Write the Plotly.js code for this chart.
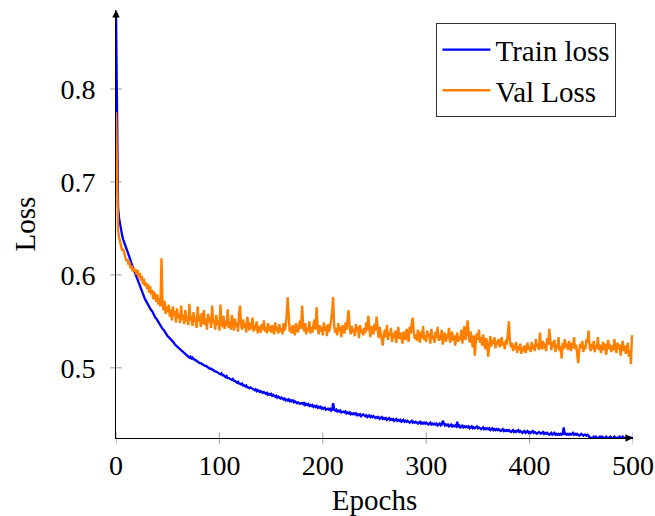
<!DOCTYPE html>
<html>
<head>
<meta charset="utf-8">
<script src="https://cdn.plot.ly/plotly-3.0.1.min.js"></script>
<style>html,body{margin:0;padding:0;background:#fff;}#chart{width:655px;height:516px;}</style>
</head>
<body>
<div id="chart"></div>
<script>
const seriesNames = ["Train loss", "Val Loss"];
const xTicks = [0, 100, 200, 300, 400, 500];
const yTicks = [0.5, 0.6, 0.7, 0.8];
const yTickLabels = ["0.5", "0.6", "0.7", "0.8"];

const trainLoss = [
0.884,0.778,0.672,0.661,0.654,0.646,0.642,0.638,0.635,0.632,
0.630,0.626,0.623,0.620,0.616,0.612,0.609,0.605,0.602,0.599,
0.596,0.593,0.591,0.587,0.585,0.582,0.579,0.577,0.574,0.572,
0.570,0.568,0.566,0.563,0.562,0.561,0.558,0.556,0.554,0.553,
0.551,0.549,0.547,0.546,0.544,0.542,0.541,0.539,0.537,0.536,
0.534,0.533,0.532,0.530,0.529,0.528,0.527,0.525,0.524,0.523,
0.522,0.521,0.520,0.519,0.518,0.517,0.516,0.516,0.514,0.514,
0.513,0.511,0.512,0.510,0.511,0.509,0.509,0.508,0.508,0.507,
0.506,0.505,0.505,0.504,0.504,0.503,0.502,0.502,0.501,0.500,
0.500,0.499,0.499,0.498,0.497,0.497,0.496,0.496,0.495,0.494,
0.494,0.493,0.494,0.492,0.492,0.491,0.490,0.491,0.489,0.489,
0.488,0.488,0.487,0.488,0.486,0.486,0.485,0.484,0.485,0.483,
0.483,0.482,0.483,0.481,0.481,0.480,0.481,0.479,0.479,0.478,
0.479,0.478,0.477,0.477,0.476,0.477,0.475,0.476,0.475,0.474,
0.475,0.474,0.473,0.474,0.473,0.472,0.473,0.471,0.472,0.471,
0.472,0.470,0.471,0.470,0.469,0.470,0.468,0.469,0.468,0.467,
0.468,0.467,0.466,0.467,0.465,0.466,0.465,0.466,0.464,0.465,
0.464,0.465,0.463,0.464,0.463,0.462,0.463,0.462,0.461,0.462,
0.462,0.461,0.463,0.460,0.461,0.460,0.461,0.459,0.460,0.459,
0.460,0.458,0.459,0.458,0.459,0.457,0.458,0.457,0.458,0.456,
0.457,0.456,0.457,0.455,0.456,0.456,0.455,0.456,0.454,0.455,
0.462,0.455,0.454,0.455,0.453,0.454,0.453,0.454,0.452,0.453,
0.453,0.452,0.453,0.451,0.452,0.451,0.452,0.450,0.451,0.450,
0.451,0.450,0.451,0.449,0.450,0.449,0.450,0.448,0.449,0.450,
0.449,0.448,0.449,0.447,0.448,0.449,0.447,0.448,0.447,0.448,
0.447,0.446,0.447,0.446,0.447,0.445,0.446,0.447,0.445,0.446,
0.445,0.446,0.444,0.445,0.446,0.444,0.445,0.444,0.445,0.443,
0.444,0.445,0.443,0.444,0.443,0.444,0.442,0.443,0.444,0.442,
0.443,0.442,0.443,0.442,0.441,0.442,0.443,0.441,0.442,0.441,
0.442,0.441,0.440,0.441,0.442,0.440,0.441,0.440,0.441,0.440,
0.441,0.440,0.439,0.440,0.441,0.439,0.440,0.439,0.440,0.439,
0.440,0.438,0.439,0.440,0.438,0.439,0.443,0.439,0.438,0.439,
0.438,0.439,0.437,0.438,0.439,0.437,0.438,0.437,0.438,0.437,
0.442,0.437,0.438,0.436,0.437,0.438,0.436,0.437,0.436,0.437,
0.436,0.437,0.435,0.436,0.437,0.435,0.436,0.435,0.436,0.437,
0.435,0.436,0.435,0.434,0.435,0.436,0.434,0.435,0.434,0.435,
0.434,0.435,0.433,0.434,0.435,0.433,0.434,0.433,0.434,0.433,
0.434,0.433,0.432,0.433,0.434,0.432,0.433,0.432,0.433,0.432,
0.433,0.432,0.431,0.432,0.433,0.431,0.432,0.431,0.432,0.433,
0.431,0.432,0.431,0.430,0.431,0.432,0.430,0.431,0.432,0.430,
0.431,0.430,0.431,0.432,0.430,0.431,0.430,0.429,0.430,0.431,
0.430,0.429,0.430,0.431,0.429,0.430,0.429,0.430,0.429,0.428,
0.429,0.430,0.428,0.429,0.430,0.428,0.429,0.428,0.429,0.428,
0.429,0.428,0.429,0.436,0.428,0.429,0.428,0.429,0.428,0.429,
0.428,0.429,0.430,0.428,0.429,0.428,0.429,0.428,0.427,0.428,
0.429,0.428,0.427,0.428,0.428,0.427,0.428,0.427,0.425,0.425,
0.424,0.425,0.426,0.425,0.426,0.425,0.424,0.425,0.426,0.425,
0.426,0.425,0.424,0.425,0.426,0.425,0.424,0.425,0.426,0.425,
0.424,0.425,0.426,0.425,0.424,0.425,0.425,0.426,0.424,0.425,
0.426,0.425,0.424,0.425,0.426,0.425,0.424,0.425,0.425,0.424,
0.425
];

const valLoss = [
0.775,0.700,0.648,0.640,0.634,0.631,0.626,0.628,0.621,0.619,
0.615,0.617,0.611,0.614,0.607,0.610,0.604,0.608,0.603,0.606,
0.600,0.605,0.597,0.602,0.594,0.599,0.590,0.596,0.588,0.592,
0.585,0.590,0.581,0.588,0.579,0.584,0.574,0.582,0.576,0.571,
0.579,0.568,0.575,0.566,0.618,0.569,0.562,0.572,0.558,0.566,
0.560,0.568,0.555,0.563,0.551,0.566,0.556,0.561,0.549,0.564,
0.553,0.558,0.548,0.567,0.552,0.557,0.547,0.562,0.550,0.555,
0.546,0.569,0.551,0.556,0.545,0.560,0.549,0.554,0.543,0.566,
0.550,0.556,0.544,0.559,0.547,0.562,0.546,0.553,0.541,0.558,
0.549,0.555,0.543,0.567,0.548,0.552,0.541,0.557,0.546,0.551,
0.540,0.568,0.549,0.544,0.556,0.542,0.551,0.545,0.563,0.543,
0.550,0.541,0.557,0.546,0.540,0.553,0.544,0.549,0.539,0.558,
0.567,0.546,0.541,0.552,0.543,0.548,0.538,0.555,0.544,0.540,
0.549,0.542,0.554,0.539,0.546,0.541,0.550,0.537,0.545,0.543,
0.538,0.547,0.541,0.551,0.539,0.544,0.537,0.548,0.540,0.545,
0.538,0.546,0.541,0.536,0.549,0.540,0.544,0.537,0.547,0.539,
0.543,0.536,0.548,0.540,0.545,0.555,0.576,0.547,0.539,0.544,
0.537,0.546,0.540,0.535,0.548,0.541,0.538,0.545,0.551,0.542,
0.567,0.545,0.539,0.548,0.536,0.543,0.540,0.550,0.537,0.544,
0.538,0.547,0.552,0.541,0.565,0.543,0.536,0.546,0.539,0.544,
0.535,0.549,0.540,0.545,0.534,0.547,0.539,0.543,0.552,0.560,
0.576,0.545,0.538,0.543,0.535,0.548,0.539,0.544,0.533,0.546,
0.540,0.537,0.549,0.541,0.553,0.562,0.543,0.536,0.545,0.538,
0.542,0.534,0.547,0.539,0.544,0.532,0.546,0.538,0.541,0.535,
0.543,0.537,0.549,0.540,0.556,0.538,0.533,0.545,0.539,0.536,
0.547,0.540,0.555,0.538,0.532,0.544,0.537,0.529,0.524,0.535,
0.541,0.533,0.546,0.530,0.538,0.535,0.543,0.528,0.537,0.532,
0.540,0.527,0.536,0.544,0.531,0.538,0.533,0.526,0.539,0.534,
0.530,0.542,0.535,0.528,0.544,0.537,0.548,0.554,0.538,0.531,
0.536,0.529,0.541,0.533,0.527,0.539,0.532,0.545,0.530,0.535,
0.528,0.540,0.533,0.537,0.526,0.542,0.531,0.535,0.527,0.539,
0.532,0.544,0.529,0.536,0.530,0.541,0.525,0.534,0.538,0.528,
0.536,0.531,0.543,0.527,0.533,0.539,0.529,0.535,0.524,0.532,
0.538,0.528,0.534,0.530,0.541,0.526,0.533,0.545,0.530,0.536,
0.551,0.534,0.527,0.539,0.531,0.522,0.535,0.513,0.528,0.537,
0.530,0.541,0.527,0.533,0.524,0.536,0.529,0.520,0.532,0.526,
0.512,0.528,0.534,0.523,0.530,0.526,0.533,0.521,0.529,0.525,
0.531,0.522,0.528,0.533,0.524,0.527,0.520,0.530,0.525,0.538,
0.550,0.529,0.522,0.527,0.518,0.525,0.520,0.528,0.516,0.523,
0.519,0.526,0.515,0.522,0.518,0.524,0.516,0.521,0.527,0.519,
0.523,0.517,0.528,0.520,0.525,0.518,0.531,0.522,0.526,0.519,
0.538,0.524,0.520,0.529,0.521,0.526,0.518,0.532,0.525,0.542,
0.524,0.519,0.528,0.522,0.530,0.517,0.525,0.521,0.533,0.518,
0.523,0.510,0.527,0.520,0.531,0.522,0.526,0.519,0.529,0.523,
0.518,0.527,0.521,0.533,0.520,0.525,0.516,0.505,0.519,0.526,
0.521,0.529,0.517,0.524,0.520,0.531,0.527,0.540,0.523,0.518,
0.526,0.520,0.529,0.517,0.524,0.521,0.533,0.519,0.525,0.516,
0.522,0.528,0.519,0.526,0.514,0.523,0.530,0.520,0.525,0.517,
0.524,0.519,0.531,0.521,0.516,0.527,0.520,0.525,0.513,0.522,
0.529,0.518,0.524,0.515,0.521,0.527,0.512,0.520,0.504,0.535,
0.531
];

const epochs = trainLoss.map((_, i) => i);

const FONT = "Liberation Serif, Times New Roman, serif";
const xMin = 0, xMax = 500, yMin = 0.4245, yMax = 0.885;

const traces = [
  {x: epochs, y: trainLoss, name: seriesNames[0], type: "scatter", mode: "lines",
   line: {color: "#0000ff", width: 2.3}},
  {x: epochs, y: valLoss, name: seriesNames[1], type: "scatter", mode: "lines",
   line: {color: "#ff8000", width: 2.4}}
];

// crossing tick marks (gray), built from tick arrays
const shapes = [];
xTicks.forEach(v => shapes.push({type: "line", xref: "x", yref: "paper", x0: v, x1: v,
  y0: -0.013, y1: 0.013, line: {color: "#999", width: 1}, layer: "below"}));
yTicks.forEach(v => shapes.push({type: "line", xref: "paper", yref: "y", x0: -0.011, x1: 0.011,
  y0: v, y1: v, line: {color: "#999", width: 1}, layer: "below"}));

const layout = {
  width: 655, height: 516,
  margin: {l: 116, r: 22, t: 10, b: 78},
  paper_bgcolor: "#fff", plot_bgcolor: "#fff",
  font: {family: FONT, color: "#000", size: 28},
  showlegend: true,
  legend: {x: 0.968, y: 0.969, xanchor: "right", yanchor: "top",
    bgcolor: "#fff", bordercolor: "#333", borderwidth: 1, itemwidth: 48,
    font: {family: FONT, size: 29, color: "#000"}, tracegroupgap: 0},
  xaxis: {range: [xMin, xMax], showline: true, linecolor: "#000", linewidth: 1,
    showgrid: false, zeroline: false, ticks: "", tickvals: xTicks,
    ticktext: xTicks.map(String), ticklabelstandoff: 2,
    tickfont: {family: FONT, size: 28},
    title: {text: "Epochs", font: {family: FONT, size: 29}, standoff: 14}},
  yaxis: {range: [yMin, yMax], showline: true, linecolor: "#000", linewidth: 1,
    showgrid: false, zeroline: false, ticks: "", tickvals: yTicks,
    ticktext: yTickLabels, ticklabelstandoff: 14,
    tickfont: {family: FONT, size: 28},
    title: {text: "Loss", font: {family: FONT, size: 29}, standoff: 16}},
  shapes: shapes,
  annotations: [
    {xref: "paper", yref: "paper", x: 0, y: 1, ax: 0, ay: 12, axref: "pixel", ayref: "pixel",
     showarrow: true, arrowhead: 2, arrowsize: 1.5, arrowwidth: 1, arrowcolor: "#000", text: ""},
    {xref: "paper", yref: "paper", x: 1, y: 0, ax: -12, ay: 0, axref: "pixel", ayref: "pixel",
     showarrow: true, arrowhead: 2, arrowsize: 1.5, arrowwidth: 1, arrowcolor: "#000", text: ""}
  ]
};

Plotly.newPlot("chart", traces, layout, {displayModeBar: false, staticPlot: true});
</script>
</body>
</html>
